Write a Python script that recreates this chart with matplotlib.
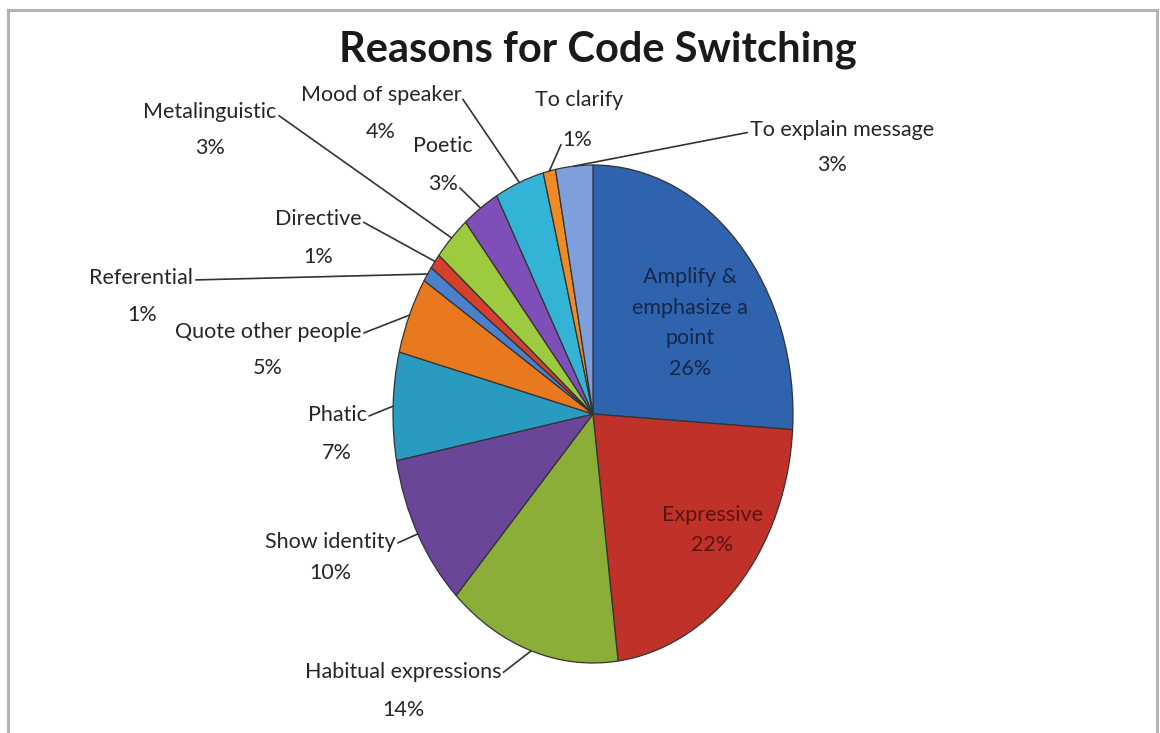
import matplotlib
matplotlib.use("Agg")
import matplotlib.pyplot as plt
from matplotlib.patches import Rectangle
import numpy as np

# Slice data, clockwise from 12 o'clock
reasons = ["Amplify &\nemphasize a\npoint", "Expressive", "Habitual expressions",
           "Show identity", "Phatic", "Quote other people", "Referential",
           "Directive", "Metalinguistic", "Poetic", "Mood of speaker",
           "To clarify", "To explain message"]
shares = [26, 22, 14, 10, 7, 5, 1, 1, 3, 3, 4, 1, 3]
colors = ["#2f63ad", "#bf3129", "#8bae38", "#6a4698", "#2a9bc0", "#e9791f",
          "#4b80cc", "#d5402c", "#9ccb40", "#7e4fb8", "#33b3d6", "#f08a24",
          "#7f9fdc"]

W, H = 1160, 733
fig = plt.figure(figsize=(W / 100, H / 100), dpi=100)
fig.patch.set_facecolor("white")

# grey frame around the chart area
fig.patches.append(Rectangle((8 / W, -0.01), 1149 / W, (H - 10) / H + 0.01,
                             transform=fig.transFigure, fill=False,
                             edgecolor="#b4b4b4", lw=2.2))

fig.text(598 / W, 1 - 50 / H, "Reasons for Code Switching", ha="center", va="center",
         fontsize=30, fontweight="bold", family="Lato", color="#1a1a1a")

# pie sits in an axes sized like the (stretched) ellipse in the picture
cx, cy, rx, ry = 593, 414, 200, 249
ax = fig.add_axes([(cx - rx) / W, 1 - (cy + ry) / H, 2 * rx / W, 2 * ry / H])
wedges, _ = ax.pie(shares, colors=colors, startangle=90, counterclock=False,
                   wedgeprops=dict(edgecolor="#333333", linewidth=0.9))
ax.set_aspect("auto")
ax.set_xlim(-1, 1)
ax.set_ylim(-1, 1)
ax.axis("off")

# mid angles of the slices
cum = np.cumsum([0] + shares[:-1])
mids = np.deg2rad(90 - 3.6 * (cum + np.array(shares) / 2))

lab_font = dict(family="Lato", fontsize=15.5, color="#262626")

# outside labels: name pos, pct pos, which line the leader starts from, side
outside = {
    2: ((403, 672), (403, 710), "name", 1),
    3: ((330, 542), (330, 573), "name", 1),
    4: ((337, 415), (337, 453), "name", 1),
    5: ((268, 332), (268, 368), "name", 1),
    6: ((141, 278), (142, 315), "name", 1),
    7: ((318, 219), (318, 257), "name", 1),
    8: ((210, 112), (210, 148), "name", 1),
    9: ((443, 146), (443, 184), "pct", 1),
    10: ((381, 95), (381, 132), "name", 1),
    11: ((579, 100), (577, 140), "pct", 0),
    12: ((842, 130), (832, 165), "name", 0),
}

def fig_xy(p):
    return (p[0] / W, 1 - p[1] / H)

for i, (npos, ppos, start, side) in outside.items():
    edge = (np.cos(mids[i]), np.sin(mids[i]))
    name_t = fig.text(*fig_xy(npos), reasons[i], ha="center", va="center", **lab_font)
    pct_t = fig.text(*fig_xy(ppos), f"{shares[i]}%", ha="center", va="center", **lab_font)
    src = name_t if start == "name" else pct_t
    ax.annotate("", xy=edge, xycoords="data",
                xytext=(side, 0.4), textcoords=src,
                arrowprops=dict(arrowstyle="-", color="#333333", lw=1.2,
                                shrinkA=2, shrinkB=0))

# labels inside the two big slices
inside_font = dict(family="Lato", fontsize=15.5, ha="center",
                   va="center", linespacing=1.65)
fig.text(*fig_xy((690, 323)), reasons[0] + f"\n{shares[0]}%", color="#17264a", **inside_font)
fig.text(*fig_xy((712, 530)), reasons[1] + f"\n{shares[1]}%", color="#5c1410", **inside_font)

fig.savefig("out.png", dpi=100, facecolor="white")
